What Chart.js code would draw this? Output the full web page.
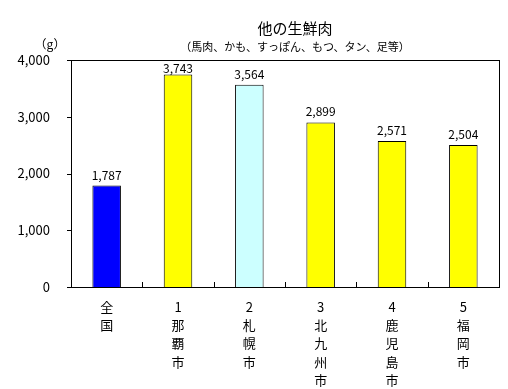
<!DOCTYPE html>
<html lang="ja">
<head>
    <meta charset="UTF-8">
    <title>他の生鮮肉</title>
    <style>
        html, body{
            margin: 0;
            padding: 0;
            background-color: #fff;
        }
        .diagrammContainer{
            position: relative;
            width: 508px;
            height: 389px;
        }
    </style>
</head>
<body>
    <div class="diagrammContainer">
        <canvas id="diagramm"></canvas>
    </div>
    <script src="https://cdn.jsdelivr.net/npm/chart.js"></script>
    <script>
        // Daten
        const staedte = [
            ['全', '国'],
            ['1', '那', '覇', '市'],
            ['2', '札', '幌', '市'],
            ['3', '北', '九', '州', '市'],
            ['4', '鹿', '児', '島', '市'],
            ['5', '福', '岡', '市']
        ];
        const werte = [1787, 3743, 3564, 2899, 2571, 2504];
        const farben = ['#0000ff', '#ffff00', '#ccffff', '#ffff00', '#ffff00', '#ffff00'];
        const titel = '他の生鮮肉';
        const untertitel = '（馬肉、かも、すっぽん、もつ、タン、足等）';
        const einheit = '（g）';

        const schrift = '"Noto Sans CJK JP", sans-serif';

        // Rahmen, Striche, Werte und Titel
        const extras = {
            id: 'extras',
            afterDraw(chart) {
                const ctx = chart.ctx;
                const a = chart.chartArea;
                const x = chart.scales.x;
                const y = chart.scales.y;
                ctx.save();
                ctx.strokeStyle = '#000';
                ctx.lineWidth = 1;
                ctx.strokeRect(Math.round(a.left) + 0.5, Math.round(a.top) + 0.5,
                    Math.round(a.right - a.left), Math.round(a.bottom - a.top));

                ctx.beginPath();
                // Striche zwischen den Kategorien (nach innen)
                for (let i = 0; i < werte.length - 1; i++) {
                    const px = Math.round((x.getPixelForValue(i) + x.getPixelForValue(i + 1)) / 2) + 0.5;
                    ctx.moveTo(px, Math.round(a.bottom));
                    ctx.lineTo(px, Math.round(a.bottom) - 5);
                }
                // Striche an der y-Achse (nach außen)
                y.ticks.forEach(t => {
                    const py = Math.round(y.getPixelForValue(t.value)) + 0.5;
                    ctx.moveTo(Math.round(a.left) - 4, py);
                    ctx.lineTo(Math.round(a.left), py);
                });
                ctx.stroke();

                // Werte über den Balken
                ctx.fillStyle = '#000';
                ctx.font = '12px ' + schrift;
                ctx.textAlign = 'center';
                ctx.textBaseline = 'alphabetic';
                chart.getDatasetMeta(0).data.forEach((bar, i) => {
                    const py = Math.max(bar.y - 6, a.top + 13);
                    ctx.fillText(werte[i].toLocaleString('en-US'), bar.x, py);
                });

                // Titel
                ctx.font = '15px ' + schrift;
                ctx.textBaseline = 'middle';
                ctx.fillText(titel, 295, 28);
                ctx.font = '11px ' + schrift;
                ctx.fillText(untertitel, 295, 47);
                ctx.font = '12px ' + schrift;
                ctx.fillText(einheit, 50, 44);
                ctx.restore();
            }
        };

        new Chart(document.getElementById('diagramm').getContext('2d'), {
            type: 'bar',
            data: {
                labels: staedte,
                datasets: [{
                    data: werte,
                    backgroundColor: farben,
                    borderColor: '#000',
                    borderWidth: 1,
                    categoryPercentage: 1,
                    barPercentage: 0.4
                }]
            },
            options: {
                responsive: true,
                maintainAspectRatio: false,
                animation: false,
                layout: {
                    padding: { top: 60, right: 9, left: 0, bottom: 0 }
                },
                plugins: {
                    legend: { display: false },
                    tooltip: { enabled: false }
                },
                scales: {
                    x: {
                        grid: { display: false },
                        border: { display: false },
                        afterFit(axis) { axis.height = 102; },
                        ticks: {
                            color: '#000',
                            padding: 3,
                            maxRotation: 0,
                            autoSkip: false,
                            font: { family: schrift, size: 13, lineHeight: 1.4 }
                        }
                    },
                    y: {
                        min: 0,
                        max: 4000,
                        afterFit(axis) { axis.width = 71; },
                        grid: { display: false },
                        border: { display: false },
                        ticks: {
                            stepSize: 1000,
                            color: '#000',
                            padding: 13,
                            font: { family: schrift, size: 13 },
                            callback: function(value) {
                                return value.toLocaleString('en-US');
                            }
                        }
                    }
                }
            },
            plugins: [extras]
        });
    </script>
</body>
</html>
